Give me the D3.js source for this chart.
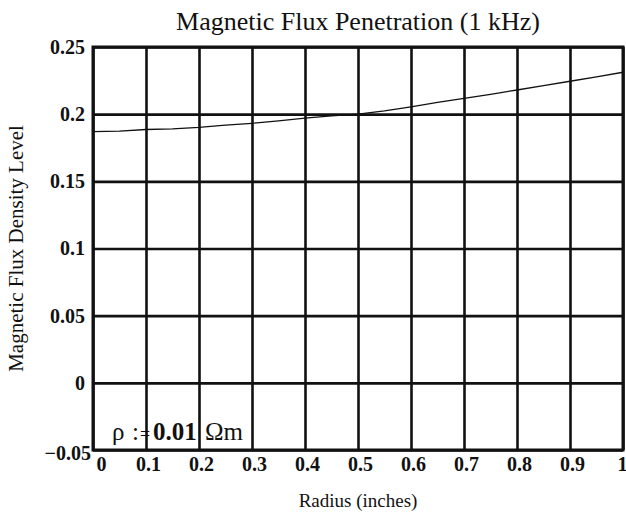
<!DOCTYPE html>
<html>
<head>
<meta charset="utf-8">
<script src="https://cdn.jsdelivr.net/npm/d3@7"></script>
<style>
  html, body { margin: 0; padding: 0; background: #fff; }
  svg { display: block; }
  text { font-family: "Liberation Serif", "Times New Roman", serif; fill: #111; }
</style>
</head>
<body>
<svg id="chart" width="626" height="514"></svg>
<script>
// Flux density level across the radius of the conductor
const radius = [0, 0.05, 0.1, 0.15, 0.2, 0.25, 0.3, 0.35, 0.4, 0.45, 0.5,
                0.55, 0.6, 0.65, 0.7, 0.75, 0.8, 0.85, 0.9, 0.95, 1.0];
const fluxLevel = [0.1870, 0.1874, 0.1886, 0.1890, 0.1901, 0.1918, 0.1932, 0.1950, 0.1970, 0.1988, 0.2000,
                   0.2024, 0.2055, 0.2087, 0.2118, 0.2148, 0.2180, 0.2213, 0.2245, 0.2278, 0.2312];

const xTicks = [0, 0.1, 0.2, 0.3, 0.4, 0.5, 0.6, 0.7, 0.8, 0.9, 1];
const xTickLabels = ["0", "0.1", "0.2", "0.3", "0.4", "0.5", "0.6", "0.7", "0.8", "0.9", "1"];
const yTicks = [-0.05, 0, 0.05, 0.1, 0.15, 0.2, 0.25];
const yTickLabels = ["\u22120.05", "0", "0.05", "0.1", "0.15", "0.2", "0.25"];

const titleText = "Magnetic Flux Penetration (1 kHz)";
const xTitle = "Radius (inches)";
const yTitle = "Magnetic Flux Density Level";

const svg = d3.select("#chart");
const margin = { left: 93, right: 3, top: 47, bottom: 64 };
const W = 626, H = 514;
const w = W - margin.left - margin.right;
const h = H - margin.top - margin.bottom;

const x = d3.scaleLinear().domain([0, 1]).range([0, w]);
const y = d3.scaleLinear().domain([-0.05, 0.25]).range([h, 0]);

const g = svg.append("g").attr("transform", `translate(${margin.left},${margin.top})`);

// Grid lines
const gx = g.append("g")
  .attr("transform", `translate(0,${h})`)
  .call(d3.axisBottom(x).tickValues(xTicks).tickSize(-h).tickFormat(""));
gx.select(".domain").remove();
gx.selectAll("line").attr("stroke", "#111").attr("stroke-width", 2.6);

const gy = g.append("g")
  .call(d3.axisLeft(y).tickValues(yTicks).tickSize(-w).tickFormat(""));
gy.select(".domain").remove();
gy.selectAll("line").attr("stroke", "#111").attr("stroke-width", 2.6);

// Tick labels
const xl = g.append("g")
  .attr("transform", `translate(0,${h})`)
  .call(d3.axisBottom(x).tickValues(xTicks).tickSize(0).tickPadding(7)
    .tickFormat((d, i) => xTickLabels[i]));
xl.select(".domain").remove();
xl.selectAll("text")
  .style("font-family", "'Liberation Serif', serif")
  .style("font-size", "20px").style("font-weight", "bold").attr("fill", "#111")
  .attr("dx", d => d === 0 ? 8 : (d === 1 ? -1 : 2));

const yl = g.append("g")
  .call(d3.axisLeft(y).tickValues(yTicks).tickSize(0).tickPadding(8)
    .tickFormat((d, i) => yTickLabels[i]));
yl.select(".domain").remove();
yl.selectAll("text")
  .style("font-family", "'Liberation Serif', serif")
  .style("font-size", "20px").style("font-weight", "bold").attr("fill", "#111")
  .attr("dx", d => d === -0.05 ? 6 : 0)
  .attr("dy", d => d === -0.05 ? "0.45em" : "0.32em");

// Plot frame
g.append("rect")
  .attr("x", 0).attr("y", 0).attr("width", w).attr("height", h)
  .attr("fill", "none").attr("stroke", "#111").attr("stroke-width", 3);

// Flux curve
const line = d3.line().x((d, i) => x(radius[i])).y(d => y(d));
g.append("path")
  .datum(fluxLevel)
  .attr("d", line)
  .attr("fill", "none")
  .attr("stroke", "#111")
  .attr("stroke-width", 1.3);

// Resistivity annotation
const note = g.append("text")
  .attr("y", 393)
  .style("font-size", "25px");
note.append("tspan").attr("x", 19).text("\u03C1");
note.append("tspan").attr("x", 39).text(":");
note.append("tspan").attr("x", 47).style("font-size", "18px").text("=");
note.append("tspan").attr("x", 60).style("font-weight", "bold").text("0.01");
note.append("tspan").attr("x", 112).text("\u03A9m");

// Titles
svg.append("text")
  .attr("x", margin.left + w / 2).attr("y", 30)
  .attr("text-anchor", "middle")
  .style("font-size", "26px")
  .text(titleText);

svg.append("text")
  .attr("x", margin.left + w / 2).attr("y", 507)
  .attr("text-anchor", "middle")
  .style("font-size", "19px")
  .text(xTitle);

svg.append("text")
  .attr("transform", `translate(23,${margin.top + h / 2}) rotate(-90)`)
  .attr("text-anchor", "middle")
  .style("font-size", "21px")
  .text(yTitle);
</script>
</body>
</html>
